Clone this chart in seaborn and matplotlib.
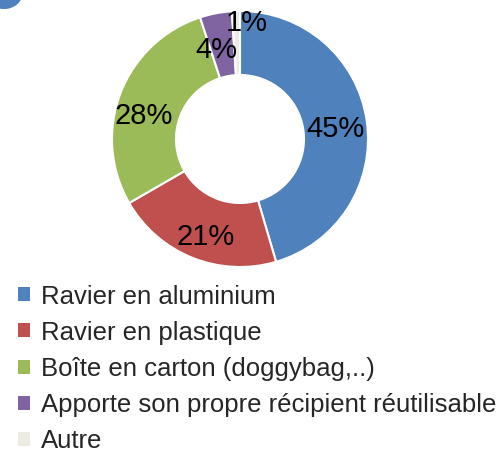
import numpy as np
import seaborn as sns
import matplotlib.pyplot as plt
from matplotlib.patches import Patch, Circle

# categories and shares (%)
categories = [
    "Ravier en aluminium",
    "Ravier en plastique",
    "Boîte en carton (doggybag,..)",
    "Apporte son propre récipient réutilisable",
    "Autre",
]
shares = [45, 21, 28, 4, 1]
pct_labels = ["45%", "21%", "28%", "4%", "1%"]
colors = ["#4F81BD", "#C0504D", "#9BBB59", "#8064A2", "#EEECE1"]

# small hand nudges of the labels (pixels, right / down), like Excel's placement
label_nudge = {"45%": (-2, 1), "21%": (2.5, 3), "28%": (-4, 9), "4%": (-4.5, 4.5), "1%": (0, 0)}

sns.set_theme(style="white")
plt.rcParams["font.family"] = ["Liberation Sans", "DejaVu Sans"]
palette = sns.color_palette(colors)

fig = plt.figure(figsize=(5.01, 4.5), dpi=100)
fig.patch.set_facecolor("white")

# donut: centre ~ (240,139) px, outer radius ~128 px
ax = fig.add_axes([112 / 501, 1 - 267 / 450, 256 / 501, 256 / 450])
wedges, _ = ax.pie(shares, colors=palette, startangle=90, counterclock=False,
                   radius=1.0,
                   wedgeprops=dict(width=0.5, edgecolor="white", linewidth=1.5))
ax.set_xlim(-1, 1)
ax.set_ylim(-1, 1)
ax.set_aspect("equal")
ax.axis("off")

# percentage labels in the middle of the ring
for w, lab in zip(wedges, pct_labels):
    mid = np.deg2rad((w.theta1 + w.theta2) / 2)
    x, y = 0.77 * np.cos(mid), 0.77 * np.sin(mid) - 0.025
    if lab == "1%":
        # tiny slice: label pushed out towards the top edge
        x, y = 0.055, 0.905
    dx, dy = label_nudge[lab]
    ax.annotate(lab, (x, y), xytext=(dx * 0.72, -dy * 0.72), textcoords="offset points",
                ha="center", va="center", fontsize=21, color="black")

# small blue fragment in the top-left corner
fig.patches.append(Circle((4 / 501, 1 + 8 / 450), 19 / 501,
                          transform=fig.transFigure, facecolor="#4F81BD",
                          edgecolor="none"))

handles = [Patch(facecolor=c, edgecolor="none") for c in palette]
fig.legend(handles, categories, loc="upper left",
           bbox_to_anchor=(18 / 501, 1 - 284.5 / 450),
           frameon=False, fontsize=18.55, handlelength=0.46, handleheight=0.46,
           handletextpad=0.42, labelspacing=0.47, borderaxespad=0,
           borderpad=0)

fig.savefig("out.png", dpi=100, facecolor="white")
